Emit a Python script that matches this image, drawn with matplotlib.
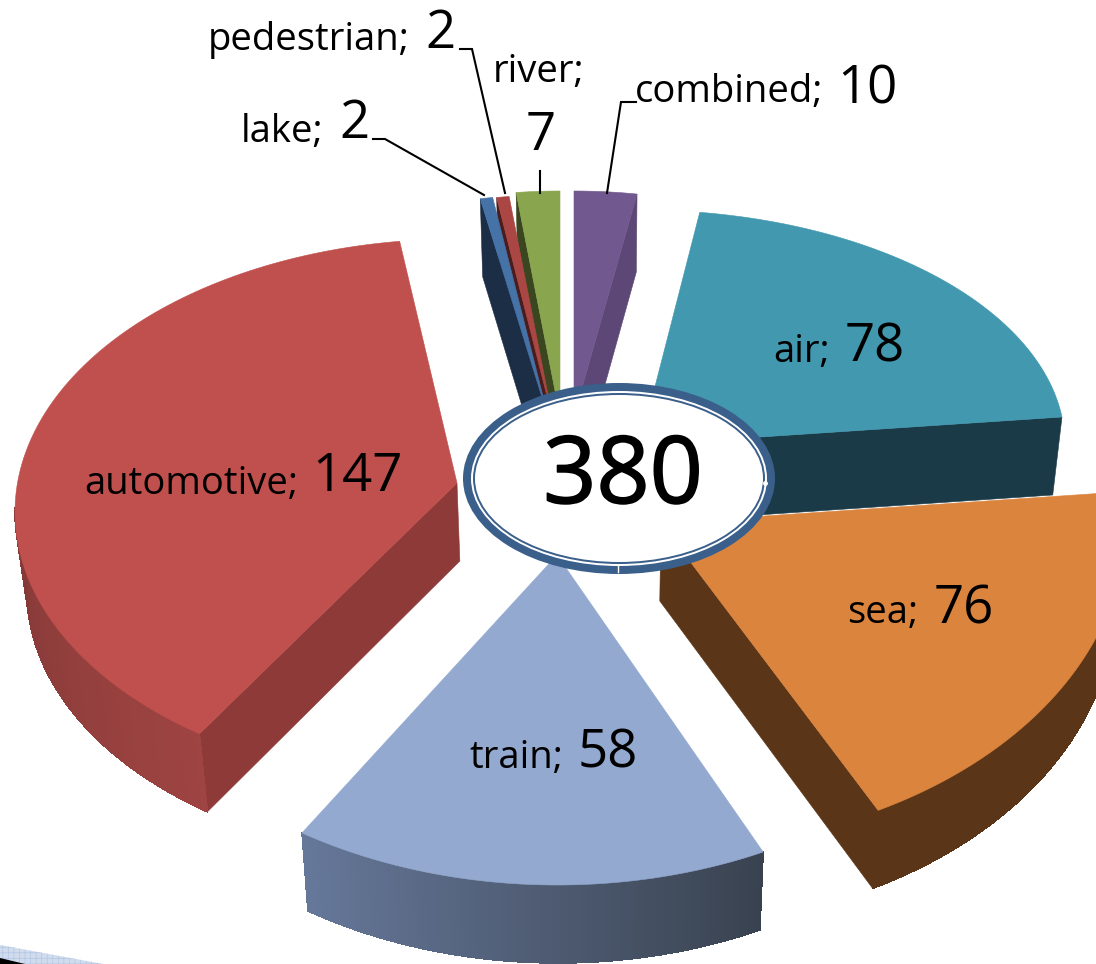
import numpy as np
import matplotlib
matplotlib.use('Agg')
import matplotlib.pyplot as plt
import matplotlib.patheffects as pe
from matplotlib.patches import Polygon, Ellipse
from matplotlib.colors import to_rgb

plt.rcParams['font.family'] = ['Open Sans', 'DejaVu Sans']
plt.rcParams['hatch.linewidth'] = 0.5

# data
labels = ['combined', 'air', 'sea', 'train', 'automotive', 'lake', 'pedestrian', 'river']
values = [10, 78, 76, 58, 147, 2, 2, 7]

# colours: top, cut face, rim start, rim end
top_colors = ['#71588F', '#4198AF', '#DB843D', '#93A9CF', '#C0504D', '#4572A7', '#AA4643', '#89A54E']
face_colors = ['#5C4776', '#1B3A47', '#5A3517', '#3A4658', '#8E3A38', '#1B2E46', '#4A1D1C', '#3A4620']
rim_start = ['#5C4776', '#1B3A47', '#5A3517', '#39424F', '#9E4442', '#1B2E46', '#4A1D1C', '#3A4620']
rim_end = ['#5C4776', '#1B3A47', '#5A3517', '#66789A', '#5F2A28', '#1B2E46', '#4A1D1C', '#3A4620']

# where every exploded slice sits on the page: cx, cy, rx, ry, rot, stretch, rim_dy
layout = {
    'combined': (574, 416, 383, 225, 0, 1, 0),
    'air': (640, 445, 425, 235, -0.8, 1.016, 0),
    'sea': (661, 523, 465, 325, -1.05, 0.94, 0),
    'train': (557, 555, 473, 330, 0.55, 1.064, 0),
    'automotive': (457, 483, 442, 273, 4.15, 0.983, 29),
    'lake': (549, 420, 380, 225, 0, 1, 0),
    'pedestrian': (553, 420, 380, 225, 0, 1, 0),
    'river': (560, 416, 380, 225, 0, 1, 0),
}
draw_order = ['combined', 'river', 'pedestrian', 'lake', 'air', 'automotive', 'sea', 'train']
depth = 78
x_vanish = 600
shrink = 0.98

# name end x, name baseline, value start x, value baseline
text_pos = {
    'automotive': (298, 494, 312, 491),
    'air': (830, 362, 845, 362),
    'sea': (918, 623, 934, 623),
    'train': (563, 768, 578, 767),
    'lake': (323, 142, 339, 138),
    'pedestrian': (410, 50, 425, 48),
    'combined': (823, 102, 837, 103),
}
leaders = [
    ([373, 385, 484], [139, 139, 195]),
    ([460, 472, 505], [49, 49, 193]),
    ([540, 540], [171, 193]),
    ([636, 621, 607], [102, 102, 193]),
]


def lower(x, y):
    # the underside of a slice: pushed down and pulled a bit to the middle
    return x_vanish + (np.asarray(x) - x_vanish) * shrink, np.asarray(y) + depth


def slice_outline(name, a1, a2):
    cx, cy, rx, ry, rot, stretch, rim_dy = layout[name]
    mid = (a1 + a2) / 2
    t = np.radians(np.linspace(mid + rot + stretch * (a1 - mid), mid + rot + stretch * (a2 - mid), 120))
    return cx + rx * np.sin(t), cy + rim_dy - ry * np.cos(t)


def add_poly(ax, xs, ys, color, aa=True):
    ax.add_patch(Polygon(np.column_stack([xs, ys]), closed=True, facecolor=color,
                         edgecolor=color, linewidth=0.4, antialiased=aa))


fig = plt.figure(figsize=(10.96, 9.64), dpi=100)
ax = fig.add_axes([0, 0, 1, 1])
ax.set_xlim(0, 1096)
ax.set_ylim(964, 0)
ax.axis('off')

# the scrap of a frame in the lower left corner
ax.add_patch(Polygon([[0, 945], [103, 964], [0, 964]], closed=True, facecolor='#D0DCEE',
                     edgecolor='#B3C6E3', hatch='+++', linewidth=0))
ax.add_patch(Polygon([[0, 958], [25, 964], [0, 964]], closed=True, facecolor='black', edgecolor='none'))

total = sum(values)
ends = np.cumsum(values) / total * 360
starts = ends - np.array(values) / total * 360

for name in draw_order:
    i = labels.index(name)
    cx, cy = layout[name][:2]
    rim_dy = layout[name][6]
    xs, ys = slice_outline(name, starts[i], ends[i])
    bx, by = lower(xs, ys)
    apx, apy = lower(cx, cy)

    # the cut faces, only when the slice lies above the edge
    mx, my = xs[len(xs) // 2] - cx, ys[len(xs) // 2] - cy
    for k in [0, -1]:
        ex, ey = xs[k] - cx, ys[k] - cy
        if (ex * my - ey * mx) * ex < -1e-6:
            add_poly(ax, [cx, xs[k], bx[k], apx], [cy, ys[k], by[k], apy], face_colors[i])
    # rim, colour running along the arc, front part only
    c1, c2 = np.array(to_rgb(rim_start[i])), np.array(to_rgb(rim_end[i]))
    for k in range(len(xs) - 1):
        if ys[k] < cy + rim_dy and ys[k + 1] < cy + rim_dy:
            continue
        f = k / (len(xs) - 2)
        add_poly(ax, [xs[k], xs[k + 1], bx[k + 1], bx[k]], [ys[k], ys[k + 1], by[k + 1], by[k]],
                 tuple(c1 + (c2 - c1) * f), aa=False)
    # top
    add_poly(ax, np.r_[cx, xs], np.r_[cy, ys], top_colors[i])

# centre ring
ring_x, ring_y, ring_w, ring_h = 619, 478.5, 312, 191
for inset, color in [(0, '#3A5F8B'), (16, 'white'), (20, '#3A5F8B'), (24, 'white')]:
    ax.add_patch(Ellipse((ring_x, ring_y), ring_w - inset, ring_h - inset, facecolor=color, edgecolor='none'))
ax.plot([765], [483], marker='o', markersize=2.5, color='white', linestyle='none')
ax.plot([618, 618], [565, 572], color='white', linewidth=1)
ax.text(623, 503, str(total), fontsize=67, ha='center', va='baseline', color='black',
        path_effects=[pe.withStroke(linewidth=1.2, foreground='black')])

# labels
for name, (nx, ny, vx, vy) in text_pos.items():
    v = values[labels.index(name)]
    ax.text(nx, ny, name + ';', fontsize=27.5, ha='right', va='baseline', color='black')
    ax.text(vx, vy, str(v), fontsize=38, ha='left', va='baseline', color='black')
ax.text(584, 82, 'river;', fontsize=27.5, ha='right', va='baseline', color='black')
ax.text(541, 150, str(values[labels.index('river')]), fontsize=38, ha='center', va='baseline', color='black')

for lx, ly in leaders:
    ax.plot(lx, ly, color='black', linewidth=1.5, solid_joinstyle='miter')

fig.savefig('out.png', dpi=100)
